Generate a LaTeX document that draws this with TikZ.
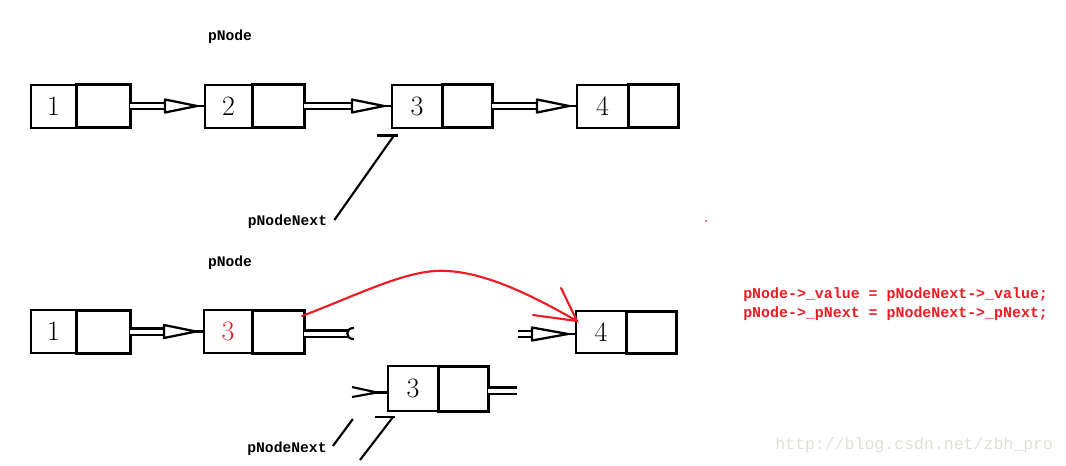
\documentclass[tikz,border=0pt]{standalone}
\usepackage{fontspec}
\newfontfamily\monofnt{Liberation Mono}
\usetikzlibrary{calc}
\definecolor{pred}{RGB}{237,28,36}
\definecolor{wmark}{RGB}{224,224,216}
\begin{document}
\begin{tikzpicture}[x=0.75pt,y=-0.75pt,
  vbox/.style={draw, line width=1.5pt, minimum height=32.25pt, inner sep=0pt, outer sep=0pt, anchor=north west,
               font=\fontsize{21}{21}\selectfont},
  nbox/.style={draw, line width=2.25pt, minimum height=32.25pt, inner sep=0pt, outer sep=0pt, anchor=north west},
  lbl/.style={font=\monofnt\bfseries\fontsize{11}{13}\selectfont, inner sep=0pt},
  code/.style={font=\monofnt\bfseries\fontsize{11.2}{13}\selectfont, text=pred, inner sep=0pt, anchor=west},
  dblline/.style={draw, line width=1.6pt, double=white, double distance=3pt},
  headline/.style={draw, line width=1.7pt, line join=round},
  ptr/.style={draw, line width=1.6pt},
  redline/.style={draw=pred, line width=1.6pt, line cap=round}]
\useasboundingbox (0,0) rectangle (1066,465);

% ---------- row 1 ----------
\node[vbox, minimum width=33.75pt] (a1v) at (31,84.5) {1};
\node[nbox, minimum width=40.5pt] (a1n) at (a1v.north east) {};
\node[vbox, minimum width=35.25pt] (b2v) at (205,84.5) {2};
\node[nbox, minimum width=39pt] (b2n) at (b2v.north east) {};
\node[vbox, minimum width=37.5pt] (c3v) at (392,84.5) {3};
\node[nbox, minimum width=37.5pt] (c3n) at (c3v.north east) {};
\node[vbox, minimum width=38.25pt] (d4v) at (577,84.5) {4};
\node[nbox, minimum width=37.5pt] (d4n) at (d4v.north east) {};

\node[lbl] (pnode1) at (230,37) {pNode};
\node[lbl] (pnn1) at (287.5,222) {pNodeNext};

\foreach \s/\t in {a1n/b2v, b2n/c3v, c3n/d4v}{
  \draw[dblline] (\s.east) -- ($(\t.west)+(-38,0)$);
  \draw[headline, fill=white] ($(\t.west)+(-40,-6.5)$) -- ($(\t.west)+(-8,0)$) -- ($(\t.west)+(-40,6.5)$) -- cycle;
  \draw[headline] ($(\t.west)+(-9,0)$) -- (\t.west);
}

\coordinate (tip1) at ($(c3v.south west)+(2,8)$);
\draw[ptr] ($(pnn1.east)+(7,-2)$) -- (tip1);
\draw[ptr, line width=2.2pt] ($(tip1)+(-17,0)$) -- ($(tip1)+(4,0)$);

% stray dot
\fill[pred] (706,221) circle[radius=1];

% ---------- row 2 ----------
\node[vbox, minimum width=33.75pt] (e1v) at (31,310) {1};
\node[nbox, minimum width=40.5pt] (e1n) at (e1v.north east) {};
\node[vbox, minimum width=36pt, text=pred] (f3v) at (204,310) {3};
\node[nbox, minimum width=39pt] (f3n) at (f3v.north east) {};
\node[vbox, minimum width=37.5pt, minimum height=31.5pt] (g4v) at (576,311) {4};
\node[nbox, minimum width=37.5pt, minimum height=31.5pt] (g4n) at (g4v.north east) {};
\node[vbox, minimum width=37.5pt, minimum height=33.75pt] (h3v) at (388,366) {3};
\node[nbox, minimum width=37.5pt, minimum height=33.75pt] (h3n) at (h3v.north east) {};

\node[lbl] (pnode2) at (230,263) {pNode};
\node[lbl] (pnn2) at (287,449) {pNodeNext};

% 1 -> red 3
\draw[dblline] (e1n.east) -- ($(f3v.west)+(-38,0)$);
\draw[headline, fill=white] ($(f3v.west)+(-40,-6.5)$) -- ($(f3v.west)+(-8,0)$) -- ($(f3v.west)+(-40,6.5)$) -- cycle;
\draw[headline] ($(f3v.west)+(-9,0)$) -- (f3v.west);

% cut stub after red 3
\draw[dblline] ($(f3n.east)+(0,2)$) -- ($(f3n.east)+(44,2)$);
\draw[line width=1.6pt] ($(f3n.east)+(50,-3.5)$) .. controls ($(f3n.east)+(41,-4)$) and ($(f3n.east)+(41,8)$) .. ($(f3n.east)+(50,7.5)$);

% stub arrow into 4
\coordinate (g4src) at ($(g4v.west)+(-58,2)$);
\draw[dblline] (g4src) -- ($(g4v.west)+(-42,2)$);
\draw[headline, fill=white] ($(g4v.west)+(-44,-4.5)$) -- ($(g4v.west)+(-8,2)$) -- ($(g4v.west)+(-44,8.5)$) -- cycle;
\draw[headline] ($(g4v.west)+(-9,2)$) -- ($(g4v.west)+(0,2)$);

% red redirect curve
\coordinate (rstart) at ($(f3n.north east)+(-2,6)$);
\coordinate (rtip) at ($(g4v.north west)+(1,10)$);
\draw[redline] (rstart) .. controls (360,294) and (410,268) .. (447,271)
   .. controls (490,273) and (540,300) .. (rtip);
\draw[redline] ($(rtip)+(-16,-33)$) -- (rtip) -- ($(rtip)+(-44,-6)$);

% detached node 3: incoming head and outgoing stub
\draw[line width=1.6pt, line join=round] ($(h3v.west)+(-36,-1.5)$) -- ($(h3v.west)+(-11,4)$) -- ($(h3v.west)+(-36,8.5)$);
\draw[line width=2.2pt] ($(h3v.west)+(-13,4)$) -- ($(h3v.west)+(0,4)$);
\draw[dblline] ($(h3n.east)+(0,2)$) -- ($(h3n.east)+(29,2)$);

% pNodeNext pointers row 2
\draw[ptr] ($(pnn2.east)+(6,-3)$) -- ($(pnn2.east)+(26,-30)$);
\coordinate (tip2) at ($(h3v.south west)+(5,6)$);
\coordinate (tail2) at (360,460);
\draw[ptr] (tail2) -- (tip2);
\draw[ptr, line width=2.2pt] ($(tip2)+(-18,0)$) -- ($(tip2)+(2,0)$);

% code
\node[code] (code1) at (743,295) {pNode->\_value = pNodeNext->\_value;};
\node[code] (code2) at (743,314) {pNode->\_pNext = pNodeNext->\_pNext;};

% watermark
\node[font=\monofnt\fontsize{12.4}{14}\selectfont, text=wmark, anchor=west, inner sep=0pt] (wm) at (775,445) {http://blog.csdn.net/zbh\_pro};
\end{tikzpicture}
\end{document}
